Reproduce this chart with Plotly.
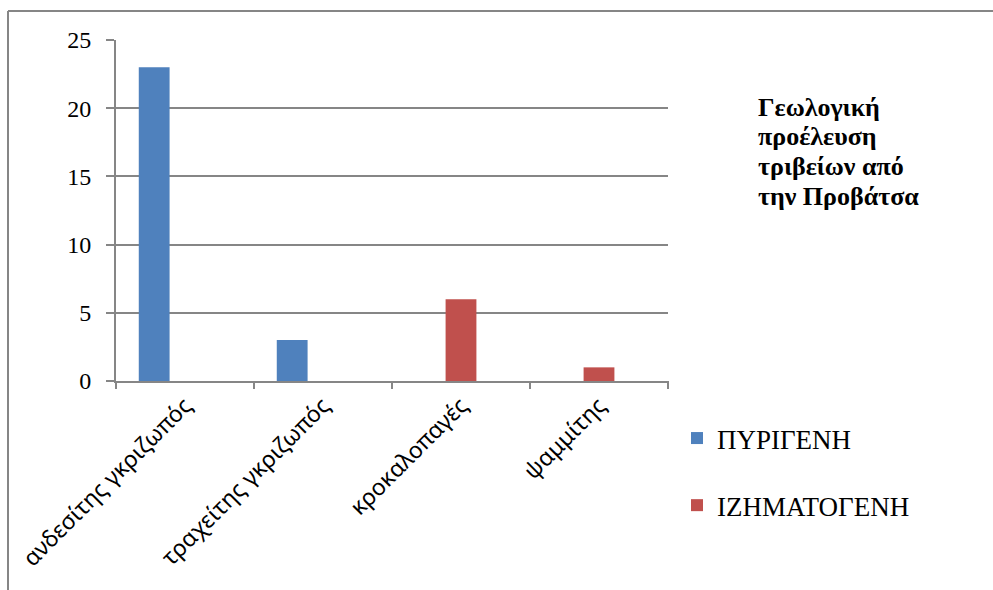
import plotly.graph_objects as go

categories = ["ανδεσίτης γκριζωπός", "τραχείτης γκριζωπός", "κροκαλοπαγές", "ψαμμίτης"]
pyrigeni = [23, 3, None, None]
izimatogeni = [None, None, 6, 1]
extra = [None, None, None, None]
series_names = ["ΠΥΡΙΓΕΝΗ", "ΙΖΗΜΑΤΟΓΕΝΗ"]
title_lines = ["Γεωλογική", "προέλευση", "τριβείων από", "την Προβάτσα"]
y_ticks = [0, 5, 10, 15, 20, 25]

W, H = 993, 590
L, R, T, B = 116, 668, 40, 381

fig = go.Figure()
fig.add_trace(go.Bar(x=categories, y=pyrigeni, name=series_names[0], legendgroup="a",
                     marker=dict(color="#4F81BD", line=dict(width=0))))
fig.add_trace(go.Bar(x=categories, y=izimatogeni, name=series_names[1], legendgroup="b",
                     marker=dict(color="#C0504D", line=dict(width=0))))
fig.add_trace(go.Bar(x=categories, y=extra, name="", showlegend=False, legendgroup="c",
                     marker=dict(color="#9BBB59", line=dict(width=0))))

serif = "Liberation Serif, Times New Roman, serif"

def px_x(p):
    return (p - L) / (R - L)

def px_y(p):
    return (B - p) / (B - T)

annotations = []
for i, line in enumerate(title_lines):
    annotations.append(dict(
        x=px_x(756), y=px_y(107 + i * 29.7), xref="paper", yref="paper",
        xanchor="left", yanchor="middle", align="left", showarrow=False,
        text="<b>" + line + "</b>",
        font=dict(family=serif, size=26, color="black"),
    ))

fig.update_layout(
    width=W, height=H,
    margin=dict(l=L, r=W - R, t=T, b=H - B, pad=0),
    paper_bgcolor="white", plot_bgcolor="white",
    barmode="group", bargap=0.33, bargroupgap=0,
    font=dict(family=serif, size=22, color="black"),
    showlegend=True,
    legend=dict(x=px_x(677), y=px_y(414), xanchor="left", yanchor="top",
                font=dict(family=serif, size=27, color="black"),
                tracegroupgap=29, itemwidth=30, bgcolor="rgba(0,0,0,0)"),
    xaxis=dict(
        type="category", showgrid=False,
        showline=True, linecolor="#868686", linewidth=2,
        ticks="", tickangle=-45,
        tickfont=dict(family="Noto Sans, DejaVu Sans, sans-serif", size=23, color="black"),
        range=[-0.5, 3.5], fixedrange=True,
    ),
    yaxis=dict(
        range=[0, 25], tickvals=y_ticks, ticktext=[str(v) for v in y_ticks],
        showgrid=True, gridcolor="#868686", gridwidth=2,
        showline=True, linecolor="#868686", linewidth=2,
        ticks="outside", ticklen=8, tickcolor="#868686", tickwidth=2,
        ticklabelstandoff=10,
        tickfont=dict(family=serif, size=24, color="black"),
        zeroline=False, fixedrange=True,
    ),
    annotations=annotations,
)

shapes = []
for i in range(5):
    xp = px_x(L + i * (R - L) / 4)
    shapes.append(dict(type="line", xref="paper", yref="paper",
                       x0=xp, x1=xp, y0=0, y1=px_y(389),
                       line=dict(color="#868686", width=2)))
shapes.append(dict(type="line", xref="paper", yref="paper",
                   x0=px_x(8), x1=px_x(1000), y0=px_y(11), y1=px_y(11),
                   line=dict(color="#868686", width=2)))
shapes.append(dict(type="line", xref="paper", yref="paper",
                   x0=px_x(8), x1=px_x(8), y0=px_y(11), y1=px_y(600),
                   line=dict(color="#868686", width=2)))
fig.update_layout(shapes=shapes)

fig.write_html("out.html", config={"displayModeBar": False},
               post_script="document.body.style.margin='0';document.body.style.overflow='hidden';")
